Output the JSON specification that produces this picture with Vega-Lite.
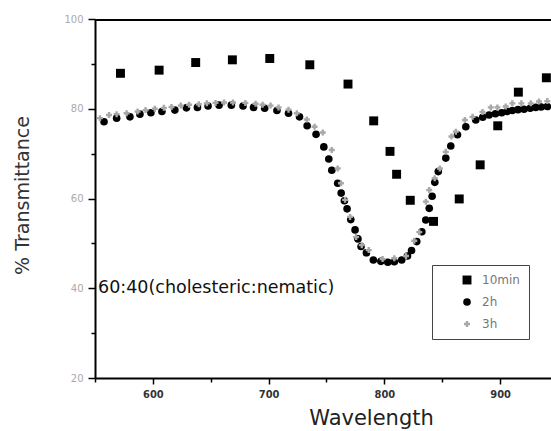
{
  "$schema": "https://vega.github.io/schema/vega-lite/v6.json",
  "width": 456,
  "height": 359,
  "autosize": {"type": "none"},
  "padding": {"left": 95, "top": 19, "right": 0, "bottom": 53},
  "background": "white",
  "config": {"view": {"stroke": null}, "font": "DejaVu Sans"},
  "datasets": {
    "pts": [
      {"series": "10min", "w": 572.0, "T": 87.9},
      {"series": "10min", "w": 605.4, "T": 88.6},
      {"series": "10min", "w": 637.0, "T": 90.3},
      {"series": "10min", "w": 668.7, "T": 90.9},
      {"series": "10min", "w": 701.0, "T": 91.2},
      {"series": "10min", "w": 735.6, "T": 89.8},
      {"series": "10min", "w": 768.6, "T": 85.5},
      {"series": "10min", "w": 790.8, "T": 77.3},
      {"series": "10min", "w": 804.9, "T": 70.5},
      {"series": "10min", "w": 810.6, "T": 65.4},
      {"series": "10min", "w": 822.4, "T": 59.6},
      {"series": "10min", "w": 842.5, "T": 54.9},
      {"series": "10min", "w": 864.7, "T": 59.9},
      {"series": "10min", "w": 882.8, "T": 67.5},
      {"series": "10min", "w": 898.0, "T": 76.2},
      {"series": "10min", "w": 915.8, "T": 83.7},
      {"series": "10min", "w": 940.0, "T": 86.9},
      {"series": "2h", "w": 557.8, "T": 77.1},
      {"series": "2h", "w": 568.7, "T": 77.9},
      {"series": "2h", "w": 580.2, "T": 78.2},
      {"series": "2h", "w": 588.8, "T": 78.8},
      {"series": "2h", "w": 598.3, "T": 79.1},
      {"series": "2h", "w": 607.8, "T": 79.4},
      {"series": "2h", "w": 619.0, "T": 79.7},
      {"series": "2h", "w": 629.0, "T": 80.2},
      {"series": "2h", "w": 638.5, "T": 80.3},
      {"series": "2h", "w": 647.7, "T": 80.6},
      {"series": "2h", "w": 657.2, "T": 80.8},
      {"series": "2h", "w": 667.8, "T": 80.8},
      {"series": "2h", "w": 677.9, "T": 80.6},
      {"series": "2h", "w": 687.0, "T": 80.3},
      {"series": "2h", "w": 696.6, "T": 80.1},
      {"series": "2h", "w": 707.2, "T": 79.6},
      {"series": "2h", "w": 717.2, "T": 79.0},
      {"series": "2h", "w": 726.7, "T": 78.2},
      {"series": "2h", "w": 733.3, "T": 76.2},
      {"series": "2h", "w": 741.0, "T": 74.3},
      {"series": "2h", "w": 747.7, "T": 71.5},
      {"series": "2h", "w": 752.0, "T": 68.8},
      {"series": "2h", "w": 754.6, "T": 66.3},
      {"series": "2h", "w": 759.7, "T": 63.4},
      {"series": "2h", "w": 762.7, "T": 61.2},
      {"series": "2h", "w": 765.5, "T": 59.5},
      {"series": "2h", "w": 767.8, "T": 57.7},
      {"series": "2h", "w": 771.0, "T": 55.3},
      {"series": "2h", "w": 774.7, "T": 53.0},
      {"series": "2h", "w": 777.2, "T": 51.0},
      {"series": "2h", "w": 779.9, "T": 49.3},
      {"series": "2h", "w": 784.5, "T": 47.9},
      {"series": "2h", "w": 790.5, "T": 46.3},
      {"series": "2h", "w": 797.0, "T": 46.0},
      {"series": "2h", "w": 803.0, "T": 45.8},
      {"series": "2h", "w": 808.6, "T": 45.9},
      {"series": "2h", "w": 815.0, "T": 46.3},
      {"series": "2h", "w": 820.0, "T": 47.2},
      {"series": "2h", "w": 823.5, "T": 48.4},
      {"series": "2h", "w": 828.0, "T": 50.4},
      {"series": "2h", "w": 832.4, "T": 52.6},
      {"series": "2h", "w": 835.8, "T": 55.2},
      {"series": "2h", "w": 838.8, "T": 57.8},
      {"series": "2h", "w": 841.3, "T": 60.5},
      {"series": "2h", "w": 843.6, "T": 63.6},
      {"series": "2h", "w": 846.6, "T": 66.0},
      {"series": "2h", "w": 853.1, "T": 69.0},
      {"series": "2h", "w": 857.4, "T": 71.7},
      {"series": "2h", "w": 863.2, "T": 74.2},
      {"series": "2h", "w": 870.4, "T": 76.0},
      {"series": "2h", "w": 879.0, "T": 77.5},
      {"series": "2h", "w": 885.0, "T": 78.1},
      {"series": "2h", "w": 890.5, "T": 78.6},
      {"series": "2h", "w": 896.0, "T": 78.9},
      {"series": "2h", "w": 901.4, "T": 79.1},
      {"series": "2h", "w": 906.0, "T": 79.4},
      {"series": "2h", "w": 910.6, "T": 79.6},
      {"series": "2h", "w": 915.5, "T": 79.8},
      {"series": "2h", "w": 920.7, "T": 79.9},
      {"series": "2h", "w": 926.0, "T": 80.1},
      {"series": "2h", "w": 930.8, "T": 80.3},
      {"series": "2h", "w": 935.5, "T": 80.4},
      {"series": "2h", "w": 940.8, "T": 80.5},
      {"series": "3h", "w": 554.3, "T": 77.9},
      {"series": "3h", "w": 562.1, "T": 78.6},
      {"series": "3h", "w": 568.7, "T": 78.8},
      {"series": "3h", "w": 577.3, "T": 79.0},
      {"series": "3h", "w": 586.8, "T": 79.4},
      {"series": "3h", "w": 593.7, "T": 79.7},
      {"series": "3h", "w": 601.7, "T": 80.0},
      {"series": "3h", "w": 609.5, "T": 80.2},
      {"series": "3h", "w": 616.1, "T": 80.4},
      {"series": "3h", "w": 624.1, "T": 80.7},
      {"series": "3h", "w": 631.3, "T": 80.9},
      {"series": "3h", "w": 639.7, "T": 81.0},
      {"series": "3h", "w": 646.6, "T": 81.2},
      {"series": "3h", "w": 654.1, "T": 81.3},
      {"series": "3h", "w": 661.5, "T": 81.4},
      {"series": "3h", "w": 669.2, "T": 81.4},
      {"series": "3h", "w": 679.9, "T": 81.3},
      {"series": "3h", "w": 688.8, "T": 81.1},
      {"series": "3h", "w": 694.8, "T": 80.9},
      {"series": "3h", "w": 701.7, "T": 80.7},
      {"series": "3h", "w": 708.6, "T": 80.3},
      {"series": "3h", "w": 717.2, "T": 79.8},
      {"series": "3h", "w": 724.4, "T": 79.0},
      {"series": "3h", "w": 733.0, "T": 77.6},
      {"series": "3h", "w": 739.7, "T": 76.0},
      {"series": "3h", "w": 746.8, "T": 74.7},
      {"series": "3h", "w": 754.6, "T": 70.8},
      {"series": "3h", "w": 759.7, "T": 66.7},
      {"series": "3h", "w": 762.5, "T": 63.4},
      {"series": "3h", "w": 766.1, "T": 59.7},
      {"series": "3h", "w": 770.4, "T": 55.9},
      {"series": "3h", "w": 775.6, "T": 51.4},
      {"series": "3h", "w": 780.5, "T": 49.6},
      {"series": "3h", "w": 786.5, "T": 48.5},
      {"series": "3h", "w": 798.5, "T": 46.5},
      {"series": "3h", "w": 808.6, "T": 46.7},
      {"series": "3h", "w": 818.7, "T": 47.2},
      {"series": "3h", "w": 825.9, "T": 50.6},
      {"series": "3h", "w": 830.2, "T": 52.5},
      {"series": "3h", "w": 835.9, "T": 59.3},
      {"series": "3h", "w": 838.8, "T": 61.9},
      {"series": "3h", "w": 843.5, "T": 64.5},
      {"series": "3h", "w": 848.0, "T": 66.7},
      {"series": "3h", "w": 853.1, "T": 70.4},
      {"series": "3h", "w": 858.0, "T": 73.8},
      {"series": "3h", "w": 861.8, "T": 74.9},
      {"series": "3h", "w": 869.6, "T": 77.5},
      {"series": "3h", "w": 876.2, "T": 78.2},
      {"series": "3h", "w": 884.8, "T": 79.3},
      {"series": "3h", "w": 892.0, "T": 80.3},
      {"series": "3h", "w": 897.7, "T": 80.3},
      {"series": "3h", "w": 904.9, "T": 80.5},
      {"series": "3h", "w": 910.6, "T": 81.2},
      {"series": "3h", "w": 918.4, "T": 81.2},
      {"series": "3h", "w": 926.5, "T": 81.2},
      {"series": "3h", "w": 933.6, "T": 81.6},
      {"series": "3h", "w": 940.8, "T": 81.7}
    ]
  },
  "layer": [
    {
      "data": {"values": [{}]},
      "mark": {"type": "rect", "color": "#000000"},
      "encoding": {
        "x": {"datum": 550, "type": "quantitative"},
        "x2": {"datum": 944},
        "y": {"datum": 100, "type": "quantitative"},
        "y2": {"datum": 99.55}
      }
    },
    {
      "data": {"name": "pts"},
      "mark": {"type": "point", "filled": true, "opacity": 1},
      "encoding": {
        "x": {
          "field": "w", "type": "quantitative",
          "scale": {"domain": [550, 944], "nice": false, "zero": false},
          "axis": {
            "values": [550, 600, 650, 700, 750, 800, 850, 900],
            "labelExpr": "datum.value % 100 === 0 ? datum.label : ''",
            "tickSize": {"condition": {"test": "datum.value % 100 === 0", "value": 6}, "value": 4},
            "grid": false,
            "domainColor": "black", "domainWidth": 2,
            "tickColor": "black", "tickWidth": 1.5,
            "labelFont": "DejaVu Sans Condensed", "labelFontSize": 11, "labelFontWeight": "bold",
            "labelColor": "#333", "labelPadding": 4,
            "title": "Wavelength", "titleFontSize": 21, "titleFontWeight": "normal",
            "titleColor": "#222", "titleX": 276, "titleY": 40, "titleBaseline": "middle", "titleAlign": "center"
          }
        },
        "y": {
          "field": "T", "type": "quantitative",
          "scale": {"domain": [20, 100], "nice": false, "zero": false},
          "axis": {
            "values": [20, 30, 40, 50, 60, 70, 80, 90, 100],
            "labelExpr": "datum.value % 20 === 0 ? datum.label : ''",
            "tickSize": {"condition": {"test": "datum.value % 20 === 0", "value": 7}, "value": 4},
            "grid": false,
            "domainColor": "black", "domainWidth": 2,
            "tickColor": "black", "tickWidth": 1.5,
            "labelFontSize": 10, "labelColor": "#aaa", "labelPadding": 5,
            "title": "% Transmittance", "titleFontSize": 19, "titleFontWeight": "normal",
            "titleColor": "#333", "titleX": -73, "titleY": 176, "titleBaseline": "middle", "titleAlign": "center", "titleAngle": -90
          }
        },
        "shape": {
          "field": "series", "type": "nominal",
          "scale": {"domain": ["10min", "2h", "3h"], "range": ["square", "circle", "cross"]},
          "legend": {"orient": "none", "legendX": 337, "legendY": 246, "title": null, "strokeColor": "#444", "fillColor": "white", "padding": 9, "labelFontSize": 12, "labelColor": "#777", "symbolOffset": 20, "labelOffset": 9, "rowPadding": 10, "symbolStrokeWidth": 0}
        },
        "color": {
          "field": "series", "type": "nominal",
          "scale": {"domain": ["10min", "2h", "3h"], "range": ["#000000", "#000000", "#a8a8a8"]},
          "legend": {"orient": "none", "legendX": 337, "legendY": 246, "title": null, "strokeColor": "#444", "fillColor": "white", "padding": 9, "labelFontSize": 12, "labelColor": "#777", "symbolOffset": 20, "labelOffset": 9, "rowPadding": 10, "symbolStrokeWidth": 0}
        },
        "size": {
          "field": "series", "type": "nominal",
          "scale": {"domain": ["10min", "2h", "3h"], "range": [80, 36, 10]},
          "legend": {"orient": "none", "legendX": 337, "legendY": 246, "title": null, "strokeColor": "#444", "fillColor": "white", "padding": 9, "labelFontSize": 12, "labelColor": "#777", "symbolOffset": 20, "labelOffset": 9, "rowPadding": 10, "symbolStrokeWidth": 0}
        }
      }
    },
    {
      "data": {"values": [{}]},
      "mark": {"type": "text", "align": "left", "baseline": "middle", "fontSize": 17.5, "dx": 3, "color": "#111", "font": "DejaVu Sans"},
      "encoding": {
        "x": {"datum": 550, "type": "quantitative"},
        "y": {"datum": 40, "type": "quantitative"},
        "text": {"value": "60:40(cholesteric:nematic)"}
      }
    }
  ]
}
